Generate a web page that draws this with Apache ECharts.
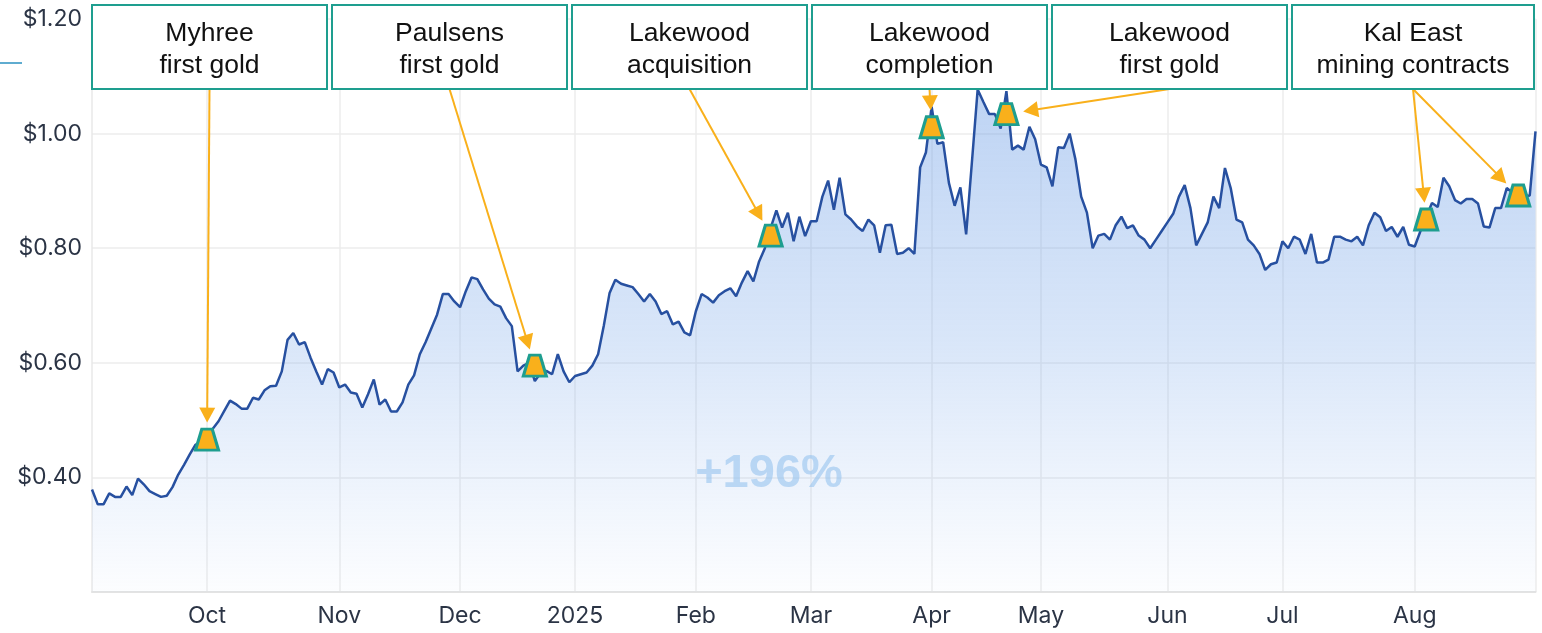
<!DOCTYPE html>
<html><head><meta charset="utf-8">
<script src="https://cdn.jsdelivr.net/npm/echarts@6/dist/echarts.min.js"></script>
<style>html,body{margin:0;padding:0;background:#fff}#c{width:1542px;height:633px}</style>
</head><body><div id="c"></div>
<script>
// ---- data ----
const startDate = '2024-09-03';
const endDate = '2025-09-01';
const holidays = ['2024-12-25','2024-12-26','2025-01-01','2025-01-27','2025-04-18','2025-04-21','2025-04-25','2025-06-09'];
const monthNames = ['Jan','Feb','Mar','Apr','May','Jun','Jul','Aug','Sep','Oct','Nov','Dec'];
const prices = [
0.379,0.353,0.353,0.372,0.366,0.366,0.384,0.369,0.398,0.388,
0.376,0.371,0.366,0.368,0.383,0.405,0.422,0.440,0.457,0.463,
0.466,0.485,0.498,0.516,0.534,0.528,0.520,0.520,0.539,0.536,
0.552,0.559,0.560,0.585,0.640,0.652,0.632,0.636,0.609,0.585,
0.562,0.589,0.583,0.557,0.562,0.548,0.546,0.522,0.545,0.571,
0.527,0.536,0.515,0.515,0.531,0.562,0.578,0.615,0.636,0.660,
0.684,0.720,0.720,0.707,0.697,0.725,0.749,0.746,0.728,0.712,
0.702,0.698,0.678,0.664,0.585,0.595,0.600,0.568,0.582,0.586,
0.580,0.615,0.585,0.566,0.577,0.580,0.583,0.595,0.615,0.665,
0.722,0.745,0.738,0.735,0.732,0.720,0.707,0.720,0.707,0.685,
0.690,0.667,0.672,0.653,0.648,0.690,0.720,0.714,0.705,0.718,
0.725,0.730,0.716,0.740,0.760,0.742,0.777,0.800,0.835,0.866,
0.836,0.862,0.812,0.855,0.821,0.847,0.847,0.890,0.918,0.867,
0.923,0.859,0.850,0.838,0.830,0.850,0.840,0.792,0.840,0.841,
0.790,0.792,0.800,0.790,0.941,0.967,1.047,0.982,0.985,0.914,
0.874,0.906,0.824,0.950,1.077,1.055,1.034,1.034,1.009,1.074,
0.972,0.979,0.972,1.012,0.990,0.946,0.941,0.908,0.976,0.975,
1.000,0.955,0.890,0.862,0.800,0.822,0.825,0.815,0.840,0.855,
0.835,0.840,0.822,0.815,0.800,0.815,0.830,0.845,0.860,0.890,
0.910,0.870,0.805,0.825,0.845,0.890,0.870,0.940,0.905,0.850,
0.845,0.815,0.805,0.790,0.762,0.772,0.775,0.812,0.800,0.820,
0.815,0.790,0.825,0.775,0.775,0.780,0.820,0.820,0.815,0.812,
0.820,0.805,0.840,0.862,0.854,0.830,0.837,0.820,0.837,0.806,
0.803,0.830,0.855,0.879,0.872,0.923,0.908,0.884,0.878,0.886,
0.886,0.878,0.838,0.836,0.870,0.870,0.905,0.897,0.890,0.890,
0.892,1.004
];
const eventIdx   = [20, 77, 118, 146, 159, 232, 248];
const eventPrice = [0.466, 0.595, 0.822, 1.011, 1.034, 0.850, 0.892];
const eventBox   = [0, 1, 2, 3, 4, 5, 5];
const boxLabels  = ['Myhree\nfirst gold','Paulsens\nfirst gold','Lakewood\nacquisition','Lakewood\ncompletion','Lakewood\nfirst gold','Kal East\nmining contracts'];
const changeLabel = '+196%';

// ---- categories: trading days ----
const categories = [];
for (let d = new Date(startDate + 'T00:00:00Z'); d <= new Date(endDate + 'T00:00:00Z'); d.setUTCDate(d.getUTCDate() + 1)) {
  const wd = d.getUTCDay();
  const s = d.toISOString().slice(0, 10);
  if (wd === 0 || wd === 6 || holidays.includes(s)) continue;
  categories.push(s);
}
const isMonthStart = (i) => i > 0 && categories[i].slice(5, 7) !== categories[i - 1].slice(5, 7);

// ---- layout ----
const G = {left: 92, right: 6.5, top: 19, bottom: 41};
const BOX = {top: 5, h: 84, w: 235, gap: 5, lastRight: 1534};
const boxLeft = k => G.left + k * (BOX.w + BOX.gap);
const boxWidth = k => k === boxLabels.length - 1 ? BOX.lastRight - boxLeft(k) : BOX.w;
const boxCX = k => boxLeft(k) + boxWidth(k) / 2;
const ORANGE = '#F9B01B', TEAL = '#1E9E8F';

const graphics = [];
boxLabels.forEach((t, k) => {
  graphics.push({type: 'rect', z: 20, shape: {x: boxLeft(k), y: BOX.top, width: boxWidth(k), height: BOX.h},
    style: {fill: '#fff', stroke: TEAL, lineWidth: 2}});
  graphics.push({type: 'text', z: 21, style: {text: t, x: boxCX(k), y: BOX.top + BOX.h / 2 + 3, align: 'center', verticalAlign: 'middle',
    font: '26.5px "Liberation Sans", Arial, sans-serif', lineHeight: 32, fill: '#111'}});
});
graphics.push({type: 'text', z: 15, style: {text: changeLabel, x: 769, y: 474, align: 'center', verticalAlign: 'middle',
  font: 'bold 47px "Liberation Sans", Arial, sans-serif', fill: 'rgba(150,195,238,0.6)'}});
graphics.push({type: 'line', z: 20, shape: {x1: 0, y1: 63, x2: 22, y2: 63}, style: {stroke: '#2a90c0', lineWidth: 1.5}});

const chart = echarts.init(document.getElementById('c'));
chart.setOption({
  animation: false,
  grid: {left: G.left, right: G.right, top: G.top, bottom: G.bottom, containLabel: false, outerBoundsMode: 'none'},
  xAxis: {
    type: 'category', data: categories, boundaryGap: false,
    axisLine: {lineStyle: {color: '#e3e3e3', width: 2}},
    axisTick: {show: false},
    axisLabel: {interval: (i) => isMonthStart(i) && i < categories.length - 1, margin: 13, color: '#2b3445', fontSize: 23, fontFamily: 'Inter',
      formatter: (v) => { const m = +v.slice(5, 7); return m === 1 ? v.slice(0, 4) : monthNames[m - 1]; }},
    splitLine: {show: true, interval: (i) => isMonthStart(i), lineStyle: {color: '#ececec', width: 1.5}}
  },
  yAxis: {
    type: 'value', min: 0.2, max: 1.2, interval: 0.2,
    axisLine: {show: true, lineStyle: {color: '#e8e8e8', width: 1.5}},
    axisTick: {show: false},
    axisLabel: {margin: 10, color: '#2b3445', fontSize: 23, fontFamily: 'Inter',
      formatter: (v) => v < 0.3 ? '' : '$' + v.toFixed(2)},
    splitLine: {lineStyle: {color: '#ececec', width: 1.5}}
  },
  graphic: {elements: graphics},
  series: [
    {type: 'line', data: prices, showSymbol: false, z: 2,
      lineStyle: {color: '#2750A0', width: 2.5},
      areaStyle: {color: new echarts.graphic.LinearGradient(0, 0, 0, 1, [
        {offset: 0, color: 'rgba(112,160,230,0.66)'},
        {offset: 0.5, color: 'rgba(125,170,234,0.42)'},
        {offset: 1, color: 'rgba(140,180,240,0.04)'}])}},
    {type: 'custom', z: 3, silent: true,
      data: eventIdx.map((x, i) => [x, eventPrice[i], eventBox[i]]),
      encode: {x: 0, y: 1},
      renderItem: (params, api) => {
        const p = api.coord([api.value(0), api.value(1)]);
        const k = api.value(2);
        const sx = boxCX(k), sy = BOX.top + BOX.h;
        const dx = p[0] - sx, dy = p[1] - sy, len = Math.hypot(dx, dy);
        const ux = dx / len, uy = dy / len;
        const gap = 17, hl = 15, hw = 8;
        const tip = [p[0] - ux * gap, p[1] - uy * gap];
        const base = [tip[0] - ux * hl, tip[1] - uy * hl];
        return {type: 'group', children: [
          {type: 'line', shape: {x1: sx, y1: sy, x2: base[0] + ux * 2, y2: base[1] + uy * 2}, style: {stroke: ORANGE, lineWidth: 2}},
          {type: 'polygon', shape: {points: [tip, [base[0] - uy * hw, base[1] + ux * hw], [base[0] + uy * hw, base[1] - ux * hw]]}, style: {fill: ORANGE}}
        ]};
      }},
    {type: 'scatter', z: 4, data: eventIdx.map((x, i) => [x, eventPrice[i]]),
      symbol: 'path://M6,0 L16,0 L22,20 L0,20 Z', symbolSize: [23, 21],
      itemStyle: {color: ORANGE, borderColor: TEAL, borderWidth: 3, opacity: 1}}
  ]
});
</script></body></html>
